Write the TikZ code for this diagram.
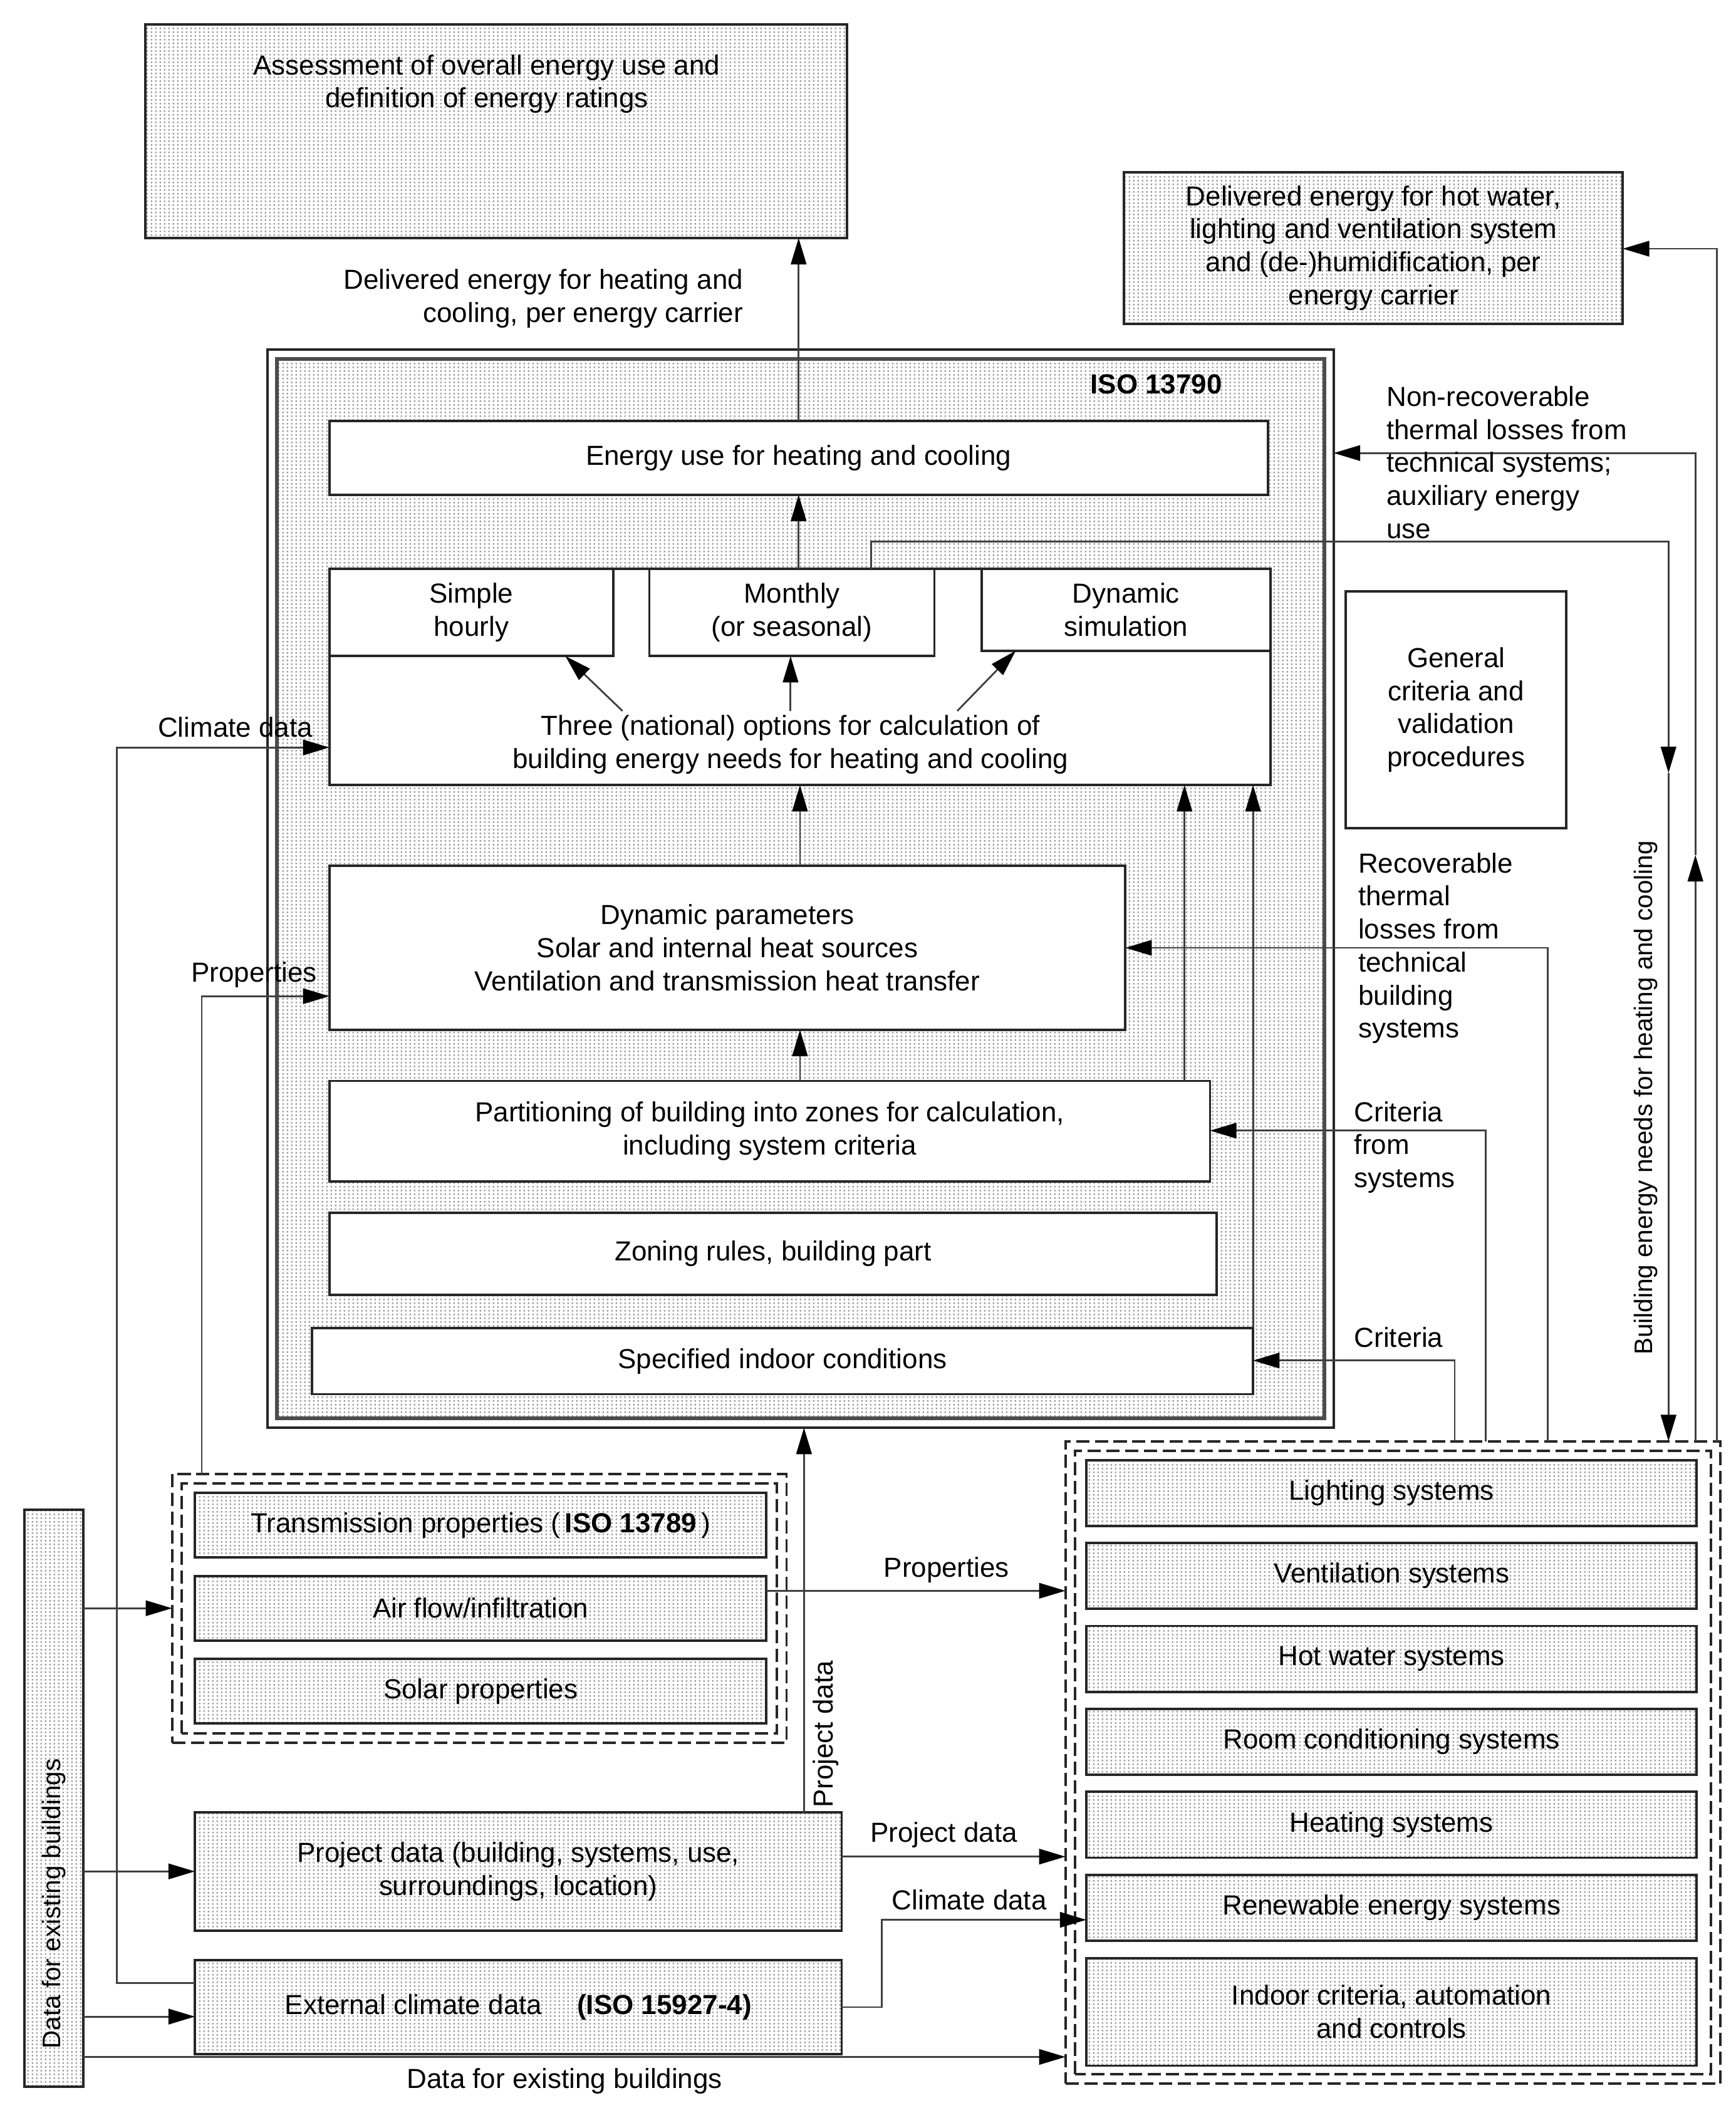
\documentclass[tikz,border=0pt]{standalone}
\usepackage{fontspec}
\setmainfont{Liberation Sans}
\usepackage{tikz}
\usetikzlibrary{arrows.meta,calc,patterns.meta}

% fine grey dot fill
\pgfdeclarepattern{
  name=fdots,
  type=uncolored,
  bottom left={\pgfpoint{0pt}{0pt}},
  top right={\pgfpoint{2pt}{1.6pt}},
  tile size={\pgfpoint{2pt}{1.6pt}},
  code={\pgfpathrectangle{\pgfpoint{0.5pt}{0.4pt}}{\pgfpoint{0.75pt}{0.8pt}}\pgfusepath{fill}}
}

\newcommand{\boxfont}{\fontsize{12.5}{15}\selectfont}
\def\px{0.02146cm}

\begin{document}
\begin{tikzpicture}[x=0.02146cm, y=-0.02146cm,
    box/.style={draw=black!85, line width=1.1pt, inner sep=0pt, outer sep=0pt, align=center, font=\boxfont},
    wbox/.style={box, fill=white},
    dbox/.style={box, pattern=fdots, pattern color=black!38},
    grp/.style={draw=black!85, line width=1.1pt, dash pattern=on 6pt off 2.5pt, inner sep=0pt, outer sep=0pt},
    sz/.style 2 args={minimum width=#1*\px, minimum height=#2*\px},
    txt/.style={align=center, font=\boxfont, inner sep=0pt},
    ltxt/.style={txt, align=left, anchor=north west},
    arr/.style={draw=black!75, line width=0.8pt, -{Triangle[length=12pt,width=7pt,color=black,fill=black]}},
    ln/.style={draw=black!75, line width=0.8pt}]
    \useasboundingbox (0,0) rectangle (1291,1568);

    % --- Top outputs ---
    \node[dbox, sz={522}{159}] (assess) at (369,97.5) {};
    \node[txt] (assesstxt) at (362,62.5) {Assessment of overall energy use and\\definition of energy ratings};
    \node[dbox, sz={371}{113}] (hotw) at (1021.5,184.5) {Delivered energy for hot water,\\lighting and ventilation system\\and (de-)humidification, per\\energy carrier};
    \node[txt, align=right, anchor=east] (dellbl) at (553,222) {Delivered energy for heating and\\cooling, per energy carrier};

    % --- ISO 13790 ---
    \node[box, sz={793}{802}] (iso) at (595.5,661) {};
    \draw[line width=1.6pt, draw=black!70, pattern=fdots, pattern color=black!38]
        ($(iso.south west)+(7,-7)$) rectangle ($(iso.north east)+(-7,7)$);
    \node[txt, font=\boxfont\bfseries] (isolbl) at (860,286) {ISO 13790};

    \node[wbox, sz={698}{55}] (euse) at (594,340.5) {Energy use for heating and cooling};
    \node[wbox, sz={700}{161}] (three) at (595,503.5) {};
    \node[wbox, sz={211}{65}] (hourly) at (350.5,455.5) {Simple\\hourly};
    \node[wbox, sz={212}{65}] (month) at (589,455.5) {Monthly\\(or seasonal)};
    \node[wbox, sz={215}{61}] (dynsim) at (837.5,453.5) {Dynamic\\simulation};
    \node[txt] (opttxt) at (588,554) {Three (national) options for calculation of\\building energy needs for heating and cooling};
    \node[wbox, sz={592}{122}] (dynp) at (541,705) {Dynamic parameters\\Solar and internal heat sources\\Ventilation and transmission heat transfer};
    \node[wbox, sz={655}{75}] (part) at (572.5,841.5) {Partitioning of building into zones for calculation,\\including system criteria};
    \node[wbox, sz={660}{61}] (zone) at (575,932.5) {Zoning rules, building part};
    \node[wbox, sz={700}{49}] (spec) at (582,1012.5) {Specified indoor conditions};

    \coordinate (cx) at (595,0);
    \draw[arr] (three.north -| euse.north) -- (euse.south);
    \draw[arr] (euse.north) -- (euse.north |- assess.south);
    \draw[arr] ($(opttxt.north)+(-125,-3)$) -- ($(hourly.south)+(70,0)$);
    \draw[arr] ($(opttxt.north)+(0,-3)$) -- (opttxt.north |- month.south);
    \draw[arr] ($(opttxt.north)+(124,-3)$) -- ($(dynsim.south)+(-82,0)$);
    \draw[arr] (dynp.north -| cx) -- (three.south -| cx);
    \draw[arr] (part.north -| cx) -- (dynp.south -| cx);
    \draw[arr] ($(part.north east)+(-19,0)$) -- ($(part.north east |- three.south)+(-19,0)$);
    \draw[arr] (spec.north east) -- (spec.north east |- three.south);

    % --- General criteria ---
    \node[wbox, sz={164}{176}] (gen) at (1083,528) {General\\criteria and\\validation\\procedures};

    % --- Properties ---
    \node[grp, sz={457}{200}] (pgrp) at (356.5,1196.5) {};
    \draw[grp] ($(pgrp.south west)+(7,-7)$) rectangle ($(pgrp.north east)+(-7,7)$);
    \foreach \nm/\tx [count=\i from 0] in {trans/{Transmission properties (\,\textbf{ISO 13789}\,)}, airf/{Air flow/infiltration}, solar/{Solar properties}}
        \node[dbox, sz={425}{48}] (\nm) at (357.5,{1134.5+61.75*\i}) {\tx};

    % --- Project and climate data ---
    \node[dbox, sz={481}{88}] (proj) at (385.5,1392) {Project data (building, systems, use,\\surroundings, location)};
    \node[dbox, sz={481}{70}] (ext) at (385.5,1493) {External climate data \quad\textbf{(ISO 15927-4)}};
    \node[dbox, sz={44}{429}] (exist) at (40,1337.5) {};
    \node[txt, rotate=90, font=\fontsize{11.5}{14}\selectfont] (existtxt) at (40,1416) {Data for existing buildings};

    % --- Systems ---
    \node[grp, sz={487}{478}] (sys) at (1036,1311) {};
    \draw[grp] ($(sys.south west)+(7,-7)$) rectangle ($(sys.north east)+(-7,7)$);
    \foreach \nm/\tx [count=\i from 0] in {light/Lighting systems, vent/Ventilation systems, hotws/Hot water systems, room/Room conditioning systems, heat/Heating systems, renew/Renewable energy systems}
        \node[dbox, sz={454}{49}] (\nm) at (1035,{1110.5+61.7*\i}) {\tx};
    \node[dbox, sz={454}{80}] (indoor) at (1035,1496.5) {Indoor criteria, automation\\and controls};

    % --- Right side feedback ---
    \coordinate (bn) at (1241,403);
    \coordinate (bnm) at (1241,575);
    \coordinate (nrm) at (1261,636);
    \coordinate (nrc) at (1261,337);
    \coordinate (hwc) at (1277,185);
    \coordinate (rec) at (1151,705);
    \coordinate (crs) at (1105,841);
    \coordinate (cri) at (1082,1012);
    \draw[arr] ($(month.north)+(59,0)$) |- (bn) -- (bnm);
    \draw[arr] (bnm) -- (bn |- sys.north);
    \draw[arr] (nrm |- sys.north) -- (nrm);
    \draw[arr] (nrm) -- (nrc) -- (nrc -| iso.east);
    \draw[arr] (hwc |- sys.north) -- (hwc) -- (hwc -| hotw.east);
    \draw[arr] (rec |- sys.north) -- (rec) -- (rec -| dynp.east);
    \draw[arr] (crs |- sys.north) -- (crs) -- (crs -| part.east);
    \draw[arr] (cri |- sys.north) -- (cri) -- (cri -| spec.east);

    \node[ltxt] (nrclbl) at (1031,287) {Non-recoverable\\thermal losses from\\technical systems;\\auxiliary energy\\use};
    \node[ltxt] (reclbl) at (1010,634) {Recoverable\\thermal\\losses from\\technical\\building\\systems};
    \node[ltxt] (crslbl) at (1007,819) {Criteria\\from\\systems};
    \node[ltxt] (crilbl) at (1007,987) {Criteria};
    \node[txt, rotate=90, font=\fontsize{11.5}{14}\selectfont] (bldlbl) at (1224,816.5) {Building energy needs for heating and cooling};

    % --- Left side inputs ---
    \coordinate (clim) at (87,556);
    \coordinate (propc) at (150,741);
    \coordinate (pjx) at (598,1200);
    \draw[arr] ($(ext.west)+(0,-18)$) -| (clim) -- (clim -| three.west);
    \draw[arr] (propc |- pgrp.north) -- (propc) -- (propc -| dynp.west);
    \draw[arr] (exist.east |- airf.west) -- (pgrp.west |- airf.west);
    \draw[arr] (exist.east |- proj.west) -- (proj.west);
    \draw[arr] ($(exist.east |- ext.west)+(0,7)$) -- ($(ext.west)+(0,7)$);
    \draw[arr] (exist.east |- 0,1530) -- (sys.west |- 0,1530);
    \draw[arr] ($(airf.east)+(0,-13)$) -- ($(airf.east -| sys.west)+(0,-13)$);
    \draw[arr] ($(proj.east)+(0,-11)$) -- ($(proj.east -| sys.west)+(0,-11)$);
    \draw[arr] (proj.north -| pjx) -- (iso.south -| pjx);
    \draw[arr] (ext.east) -| ($(renew.west)+(-152,9)$) -- ($(renew.west)+(0,9)$);

    \node[txt] (climlbl) at (175,541) {Climate data};
    \node[txt] (proplbl) at (189,725) {Properties};
    \node[txt] (propslbl) at (704,1168) {Properties};
    \node[txt, rotate=90] (pjvlbl) at (614,1290) {Project data};
    \node[txt] (projlbl) at (702,1365) {Project data};
    \node[txt] (clim2lbl) at (721,1413) {Climate data};
    \node[txt] (existlbl) at (420,1548) {Data for existing buildings};
\end{tikzpicture}
\end{document}
